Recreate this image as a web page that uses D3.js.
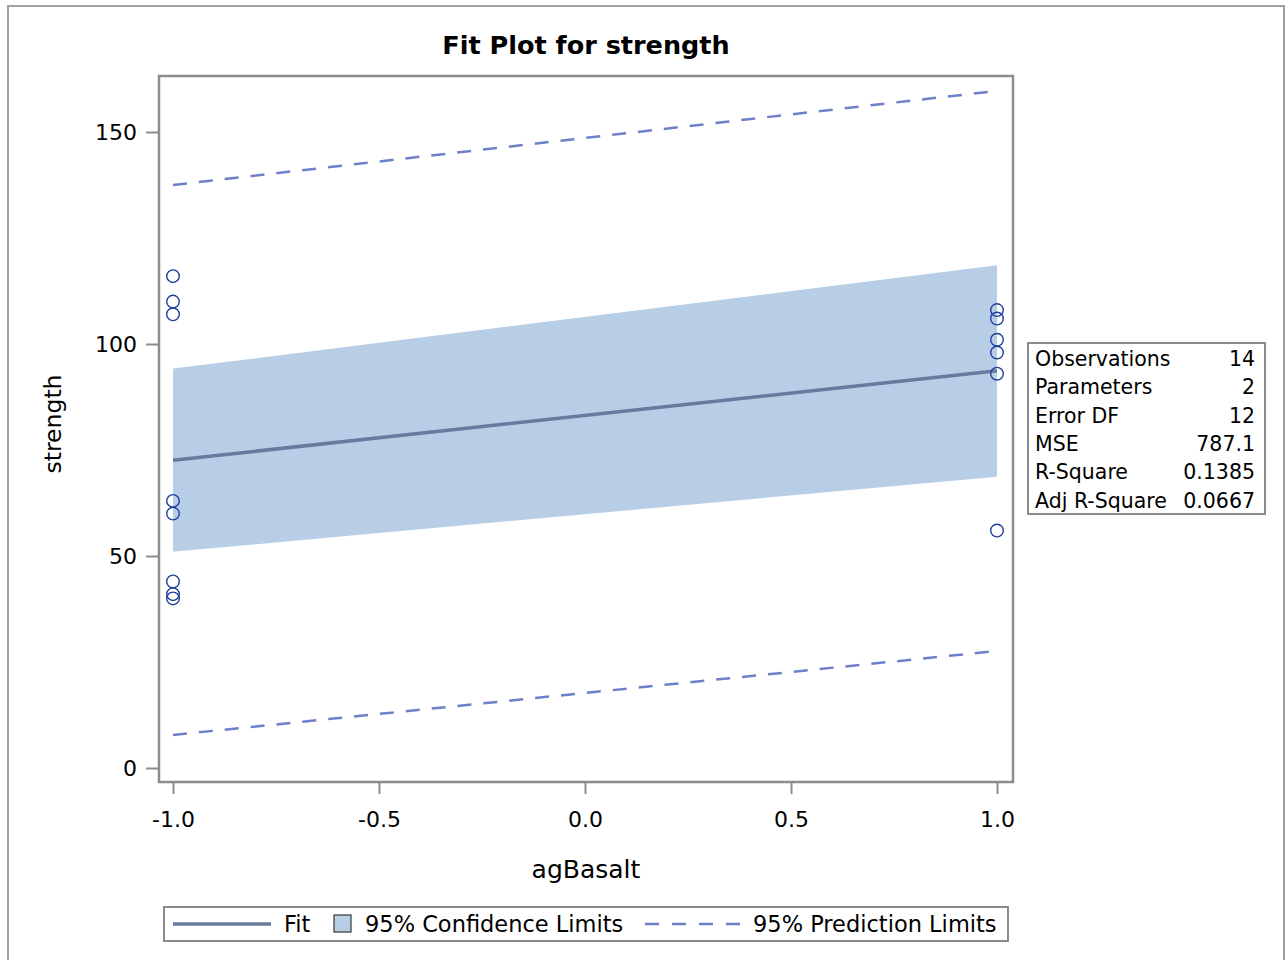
<!DOCTYPE html>
<html>
<head>
<meta charset="utf-8">
<script src="https://cdn.jsdelivr.net/npm/d3@7"></script>
<style>
  html, body { margin: 0; padding: 0; background: #fff; }
  svg { display: block; font-family: "DejaVu Sans", sans-serif; }
</style>
</head>
<body>
<svg id="chart" width="1285" height="960"></svg>
<script>
// Observations: agBasalt coded -1 / 1, strength response
const obsX = [-1, -1, -1, -1, -1, -1, -1, -1, 1, 1, 1, 1, 1, 1];
const obsY = [116, 110, 107, 63, 60, 44, 41, 40, 108, 106, 101, 98, 93, 56];

// Fit line and limits at the two ends of the x range
const fitX = [-1, 1];
const fitY = [72.6, 93.7];
const clLower = [51.0, 68.7];
const clUpper = [94.2, 118.6];
const plLower = [7.8, 27.6];
const plUpper = [137.5, 159.7];

// Axis ticks
const xTicks = [-1.0, -0.5, 0.0, 0.5, 1.0];
const yTicks = [0, 50, 100, 150];

// Fit statistics table
const statLabels = ["Observations", "Parameters", "Error DF", "MSE", "R-Square", "Adj R-Square"];
const statValues = ["14", "2", "12", "787.1", "0.1385", "0.0667"];

const svg = d3.select("#chart");
const frameCol = "#8c8c8c";
const fitCol = "#677b9f";
const bandCol = "#b8cee6";
const predCol = "#6d80c8";
const markCol = "#1f3f9f";

// outer graph border
svg.append("rect").attr("x", 8).attr("y", 6).attr("width", 1276).attr("height", 980)
  .attr("fill", "none").attr("stroke", "#a0a0a0").attr("stroke-width", 2);

// title
svg.append("text").attr("x", 586).attr("y", 54).attr("text-anchor", "middle")
  .attr("font-size", 25.5).attr("font-weight", "bold").attr("fill", "#000")
  .text("Fit Plot for strength");

const x = d3.scaleLinear().domain([-1, 1]).range([173, 997]);
const y = d3.scaleLinear().domain([0, 150]).range([768, 132]);

const pts = fitX.map((v, i) => ({x: v, lo: clLower[i], hi: clUpper[i], f: fitY[i], pl: plLower[i], pu: plUpper[i]}));

// confidence band
svg.append("path").datum(pts)
  .attr("d", d3.area().x(d => x(d.x)).y0(d => y(d.lo)).y1(d => y(d.hi)))
  .attr("fill", bandCol);

// fit line
svg.append("path").datum(pts)
  .attr("d", d3.line().x(d => x(d.x)).y(d => y(d.f)))
  .attr("fill", "none").attr("stroke", fitCol).attr("stroke-width", 3.5);

// prediction limits
["pl", "pu"].forEach(k => {
  svg.append("path").datum(pts)
    .attr("d", d3.line().x(d => x(d.x)).y(d => y(d[k])))
    .attr("fill", "none").attr("stroke", predCol).attr("stroke-width", 2.5)
    .attr("stroke-dasharray", "14,12");
});

// observations
svg.append("g").selectAll("circle").data(obsX.map((v, i) => [v, obsY[i]])).join("circle")
  .attr("cx", d => x(d[0])).attr("cy", d => y(d[1])).attr("r", 6.3)
  .attr("fill", "none").attr("stroke", markCol).attr("stroke-width", 1.4);

// plot frame
svg.append("rect").attr("x", 159).attr("y", 76).attr("width", 854).attr("height", 706)
  .attr("fill", "none").attr("stroke", frameCol).attr("stroke-width", 2.5);

// y axis
const yAxis = svg.append("g").attr("transform", "translate(158,0)")
  .call(d3.axisLeft(y).tickValues(yTicks).tickSize(12).tickPadding(9).tickFormat(d3.format("d")));
yAxis.select(".domain").remove();
yAxis.selectAll(".tick line").attr("stroke", frameCol).attr("stroke-width", 2);
yAxis.selectAll(".tick text").attr("font-size", 22).attr("fill", "#000")
  .attr("font-family", "DejaVu Sans");

// x axis
const xAxis = svg.append("g").attr("transform", "translate(0,782)")
  .call(d3.axisBottom(x).tickValues(xTicks).tickSize(12).tickPadding(17).tickFormat(d3.format(".1f")));
xAxis.select(".domain").remove();
xAxis.selectAll(".tick line").attr("stroke", frameCol).attr("stroke-width", 2);
xAxis.selectAll(".tick text").attr("font-size", 22).attr("fill", "#000")
  .attr("font-family", "DejaVu Sans").text(d => d3.format(".1f")(d).replace("−", "-"));

// axis titles
svg.append("text").attr("x", 586).attr("y", 878).attr("text-anchor", "middle")
  .attr("font-size", 25).attr("fill", "#000").text("agBasalt");
svg.append("text").attr("transform", "translate(61,424) rotate(-90)").attr("text-anchor", "middle")
  .attr("font-size", 23.5).attr("fill", "#000").text("strength");

// statistics inset
const tbl = svg.append("g");
tbl.append("rect").attr("x", 1028).attr("y", 343).attr("width", 237).attr("height", 171)
  .attr("fill", "#fff").attr("stroke", frameCol).attr("stroke-width", 2);
statLabels.forEach((lab, i) => {
  const by = 366 + i * 28.3;
  tbl.append("text").attr("x", 1035).attr("y", by).attr("font-size", 20.5).attr("fill", "#000").text(lab);
  tbl.append("text").attr("x", 1255).attr("y", by).attr("text-anchor", "end")
    .attr("font-size", 20.5).attr("fill", "#000").text(statValues[i]);
});

// legend
const lg = svg.append("g");
lg.append("rect").attr("x", 164).attr("y", 907).attr("width", 844).attr("height", 34)
  .attr("fill", "#fff").attr("stroke", frameCol).attr("stroke-width", 2);
lg.append("line").attr("x1", 173).attr("x2", 271).attr("y1", 924).attr("y2", 924)
  .attr("stroke", fitCol).attr("stroke-width", 3.5);
lg.append("text").attr("x", 284).attr("y", 932).attr("font-size", 22.5).attr("fill", "#000").text("Fit");
lg.append("rect").attr("x", 334).attr("y", 915).attr("width", 17).attr("height", 17)
  .attr("fill", bandCol).attr("stroke", "#444").attr("stroke-width", 1.3);
lg.append("text").attr("x", 365).attr("y", 932).attr("font-size", 22.5).attr("fill", "#000").text("95% Confidence Limits");
lg.append("line").attr("x1", 645).attr("x2", 740).attr("y1", 924).attr("y2", 924)
  .attr("stroke", predCol).attr("stroke-width", 2.5).attr("stroke-dasharray", "14,13");
lg.append("text").attr("x", 753).attr("y", 932).attr("font-size", 22.5).attr("fill", "#000").text("95% Prediction Limits");
</script>
</body>
</html>
